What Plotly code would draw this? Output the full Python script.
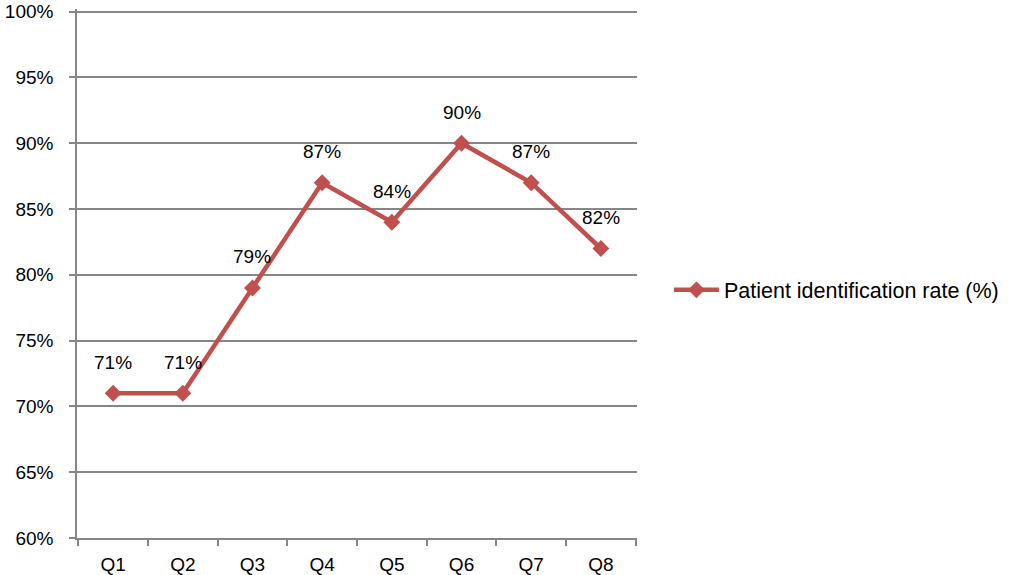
import plotly.graph_objects as go

quarters = ["Q1", "Q2", "Q3", "Q4", "Q5", "Q6", "Q7", "Q8"]
rates = [0.71, 0.71, 0.79, 0.87, 0.84, 0.90, 0.87, 0.82]
labels = ["71%", "71%", "79%", "87%", "84%", "90%", "87%", "82%"]
y_ticks = [0.60, 0.65, 0.70, 0.75, 0.80, 0.85, 0.90, 0.95, 1.00]
y_tick_text = ["60%", "65%", "70%", "75%", "80%", "85%", "90%", "95%", "100%"]
series_name = "Patient identification rate (%)"

FONT = "Liberation Sans, Arial, sans-serif"
FS = 19
RED = "#C0504D"
GRID = "#868686"

fig = go.Figure()
fig.add_trace(go.Scatter(
    x=quarters, y=rates, mode="lines+markers", name=series_name,
    line=dict(color=RED, width=4.5),
    marker=dict(symbol="diamond", size=13, color=RED),
))
for q, r, t in zip(quarters, rates, labels):
    fig.add_annotation(x=q, y=r, text=t, showarrow=False, yshift=31,
                       font=dict(family=FONT, size=FS, color="#000000"))

fig.update_layout(
    width=1009, height=575,
    margin=dict(l=77, r=372, t=9, b=37, autoexpand=False),
    paper_bgcolor="white", plot_bgcolor="white",
    font=dict(family=FONT, size=FS, color="#000000"),
    showlegend=True,
    legend=dict(x=1.057, y=0.469, xanchor="left", yanchor="middle",
                itemwidth=45,
                font=dict(family=FONT, size=21.5), bgcolor="rgba(0,0,0,0)"),
    xaxis=dict(showgrid=False, showline=True, linecolor=GRID, linewidth=1.5,
               ticks="outside", tickson="boundaries", ticklen=6, tickcolor=GRID,
               tickwidth=1.5, ticklabelstandoff=8, automargin=False,
               ticklabeloverflow="allow"),
    yaxis=dict(range=[0.6, 1.002], tickvals=y_ticks, ticktext=y_tick_text,
               showgrid=True, gridcolor=GRID, gridwidth=1.5,
               showline=True, linecolor=GRID, linewidth=1.5,
               ticks="outside", ticklen=6, tickcolor=GRID, tickwidth=1.5,
               ticklabelstandoff=12, ticklabeloverflow="allow",
               zeroline=False, automargin=False),
)

fig.write_html("out.html", config={"displayModeBar": False},
               post_script="document.body.style.margin='0';")
